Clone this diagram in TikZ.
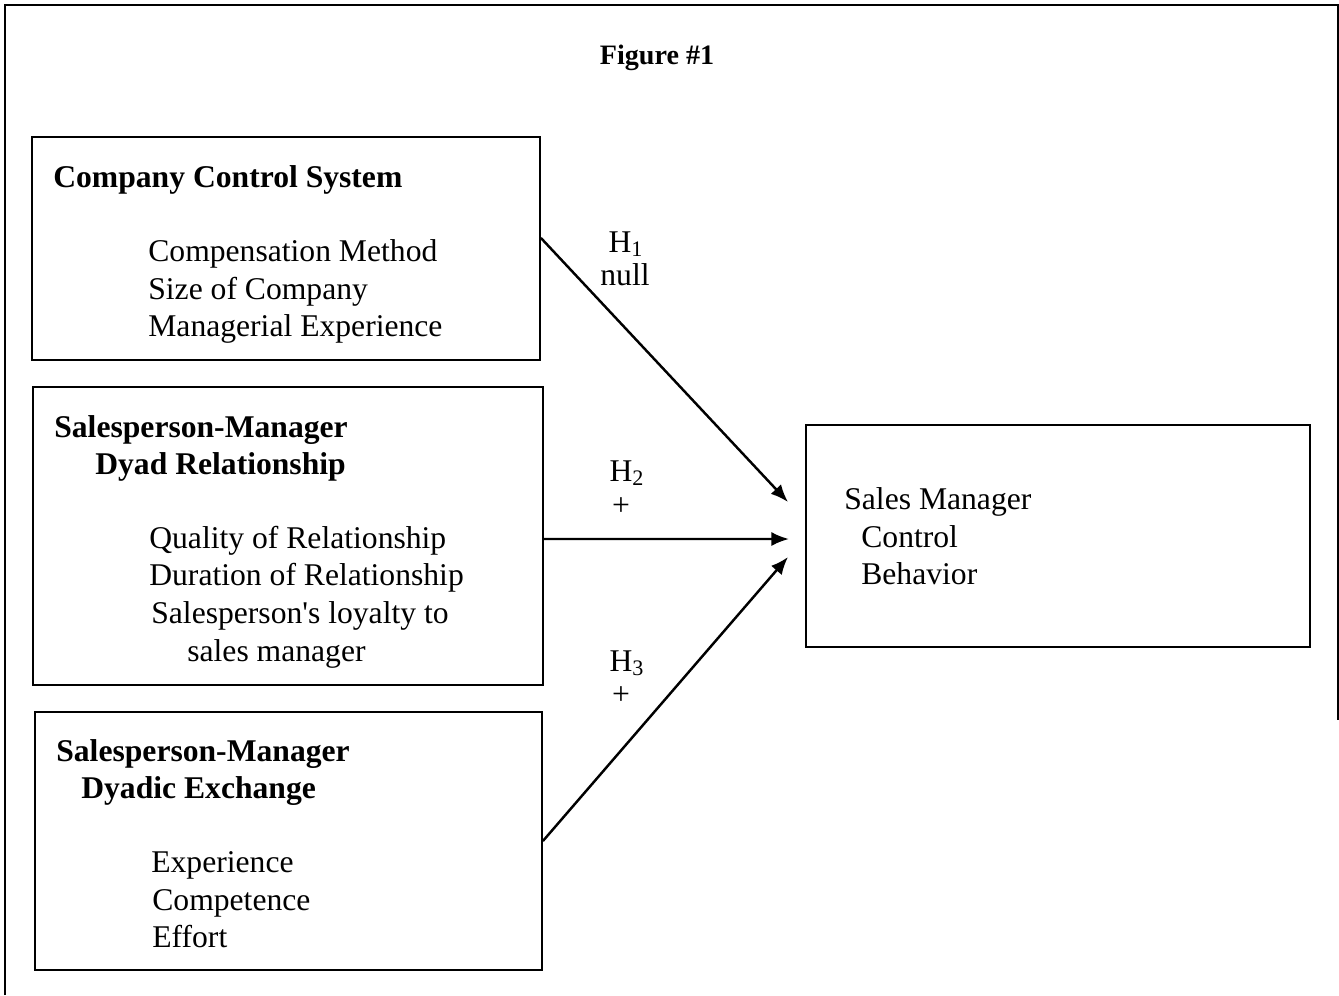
\documentclass[tikz,border=0pt]{standalone}
\usepackage{fontspec}
\setmainfont{Liberation Serif}
\usetikzlibrary{arrows.meta}
\begin{document}
\begin{tikzpicture}[x=0.02cm,y=-0.02cm,
  box/.style={draw, line width=1.1pt, inner sep=0pt},
  txt/.style={anchor=base west, inner sep=0pt, font=\fontsize{18}{21}\selectfont},
  btxt/.style={anchor=base west, inner sep=0pt, font=\fontsize{18}{21}\selectfont\bfseries},
  lbl/.style={anchor=base, inner sep=0pt, font=\fontsize{18}{21}\selectfont},
  arr/.style={line width=1.4pt, -{Latex[length=10pt,width=8pt]}}]
\useasboundingbox (0,0) rectangle (1339,995);
% outer frame
\draw[line width=1.1pt] (5,995) -- (5,5) -- (1338,5) -- (1338,720);
% title
\node[anchor=base, inner sep=0pt, font=\fontsize{16}{19}\selectfont\bfseries] (title) at (657,64) {Figure \#1};
% boxes
\node[box, minimum width=10.16cm, minimum height=4.46cm] (b1) at (286,248.5) {};
\node[box, minimum width=10.2cm, minimum height=5.96cm] (b2) at (288,536) {};
\node[box, minimum width=10.14cm, minimum height=5.16cm] (b3) at (288.5,841) {};
\node[box, minimum width=10.08cm, minimum height=4.44cm] (tgt) at (1058,536) {};
% box 1 text
\node[btxt] (b1h) at (53,187) {Company Control System};
\node[txt] (b1a) at (148,261) {Compensation Method};
\node[txt] (b1b) at (148,299) {Size of Company};
\node[txt] (b1c) at (148,336) {Managerial Experience};
% box 2 text
\node[btxt] (b2h) at (54,437) {Salesperson-Manager};
\node[btxt] (b2i) at (95,474) {Dyad Relationship};
\node[txt] (b2a) at (149,548) {Quality of Relationship};
\node[txt] (b2b) at (149,585) {Duration of Relationship};
\node[txt] (b2c) at (151,623) {Salesperson\textquotesingle s loyalty to};
\node[txt] (b2d) at (187,661) {sales manager};
% box 3 text
\node[btxt] (b3h) at (56,761) {Salesperson-Manager};
\node[btxt] (b3i) at (81,798) {Dyadic Exchange};
\node[txt] (b3a) at (151,872) {Experience};
\node[txt] (b3b) at (152,910) {Competence};
\node[txt] (b3c) at (152,947) {Effort};
% target text
\node[txt] (ta) at (844,509) {Sales Manager};
\node[txt] (tb) at (861,547) {Control};
\node[txt] (tc) at (861,584) {Behavior};
% arrow tips
\coordinate (t1) at (788,502);
\coordinate (t2) at (789,539);
\coordinate (t3) at (788,557);
\draw[arr] ([yshift=6pt]b1.east) -- (t1);
\draw[arr] ([yshift=-1.7pt]b2.east) -- (t2);
\draw[arr] (b3.east) -- (t3);
% labels
\node[lbl] (h1) at (626,252) {H\textsubscript{1}};
\node[lbl] (h1n) at (625,285) {null};
\node[lbl] (h2) at (627,481) {H\textsubscript{2}};
\node[lbl] (h2p) at (621,515) {+};
\node[lbl] (h3) at (627,671) {H\textsubscript{3}};
\node[lbl] (h3p) at (621,704) {+};
\end{tikzpicture}
\end{document}
